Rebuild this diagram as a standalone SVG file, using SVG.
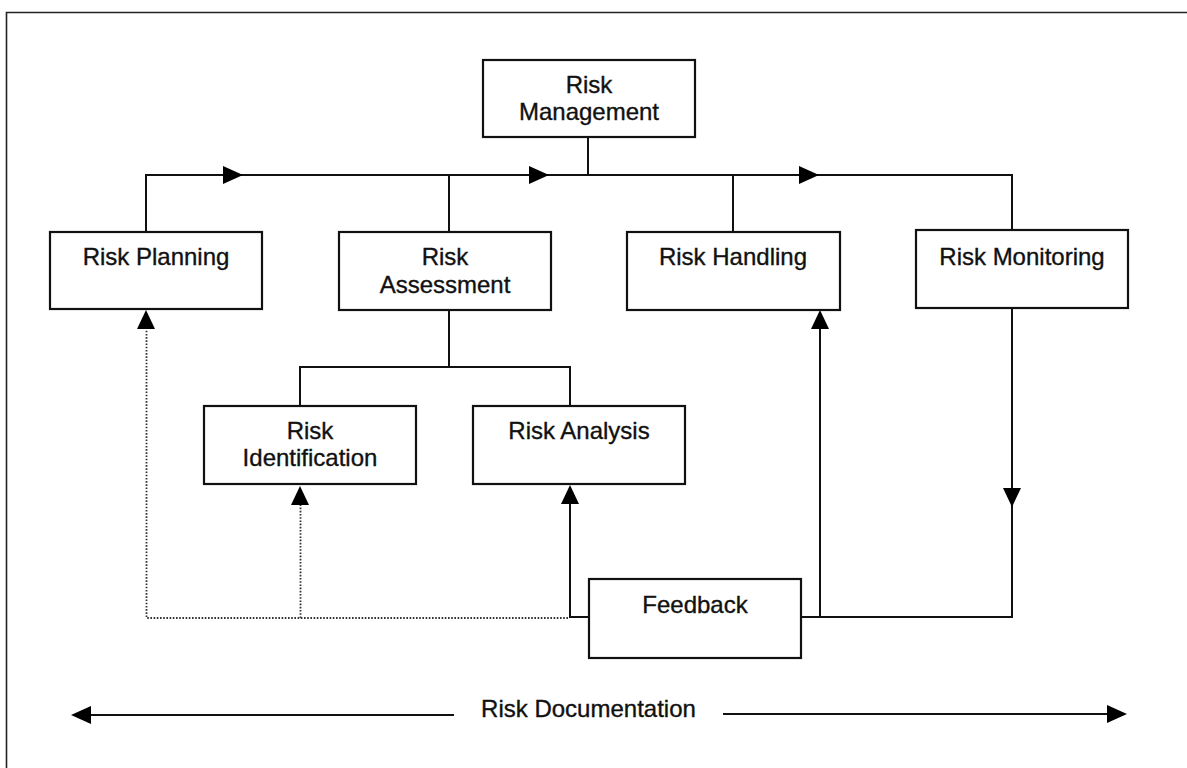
<svg xmlns="http://www.w3.org/2000/svg" width="1187" height="768" viewBox="0 0 1187 768">
  <style>
    .box { fill: #fff; stroke: #111; stroke-width: 2.2; }
    .lbl { font-family: "Liberation Sans", Arial, sans-serif; font-size: 24px; fill: #111; stroke: #111; stroke-width: 0.35; text-anchor: middle; }
    .wire { fill: none; stroke: #111; stroke-width: 2; }
    .dot { fill: none; stroke: #333; stroke-width: 1.8; stroke-dasharray: 1.6 1.6; }
    .head { fill: #000; }
    .frame { fill: none; stroke: #222; stroke-width: 1.6; }
  </style>
  <rect width="1187" height="768" fill="#fff"/>

  <!-- outer frame -->
  <path class="frame" d="M6.5 768 V12.5 H1187"/>

  <!-- connectors -->
  <g id="connectors">
    <!-- management bus -->
    <path class="wire" d="M588 137 V175"/>
    <path class="wire" d="M146 232 V175 H1012 V230"/>
    <path class="wire" d="M449 175 V232"/>
    <path class="wire" d="M733 175 V232"/>
    <polygon class="head" points="223,166 243,175 223,184"/>
    <polygon class="head" points="529,166 549,175 529,184"/>
    <polygon class="head" points="799,166 819,175 799,184"/>

    <!-- assessment sub-tree -->
    <path class="wire" d="M449 310 V367 H300 V406"/>
    <path class="wire" d="M449 367 H570 V406"/>

    <!-- feedback loops -->
    <path class="wire" d="M589 617 H570 V500"/>
    <polygon class="head" points="570,485 561,504 579,504"/>
    <path class="wire" d="M801 617 H1012 V308"/>
    <polygon class="head" points="1003,488 1021,488 1012,507"/>
    <path class="wire" d="M820 617 V326"/>
    <polygon class="head" points="820,310 811,329 829,329"/>

    <!-- dotted feedback -->
    <path class="dot" d="M568 618 H146.5 V326"/>
    <path class="dot" d="M300.5 618 V502"/>
    <polygon class="head" points="146,310 137,329 155,329"/>
    <polygon class="head" points="300,486 291,505 309,505"/>

    <!-- documentation arrow -->
    <path class="wire" d="M88 715 H454"/>
    <path class="wire" d="M723 714 H1110"/>
    <polygon class="head" points="71,715 91,706 91,724"/>
    <polygon class="head" points="1127,714 1107,705 1107,723"/>
  </g>

  <g id="risk-management">
    <rect class="box" x="483" y="60" width="212" height="77"/>
    <text class="lbl" x="589" y="93">Risk</text>
    <text class="lbl" x="589" y="120">Management</text>
  </g>

  <g id="risk-planning">
    <rect class="box" x="50" y="232" width="212" height="77"/>
    <text class="lbl" x="156" y="265">Risk Planning</text>
  </g>

  <g id="risk-assessment">
    <rect class="box" x="339" y="232" width="212" height="78"/>
    <text class="lbl" x="445" y="265">Risk</text>
    <text class="lbl" x="445" y="293">Assessment</text>
  </g>

  <g id="risk-handling">
    <rect class="box" x="627" y="232" width="213" height="78"/>
    <text class="lbl" x="733" y="265">Risk Handling</text>
  </g>

  <g id="risk-monitoring">
    <rect class="box" x="916" y="230" width="212" height="78"/>
    <text class="lbl" x="1022" y="265">Risk Monitoring</text>
  </g>

  <g id="risk-identification">
    <rect class="box" x="204" y="406" width="212" height="78"/>
    <text class="lbl" x="310" y="439">Risk</text>
    <text class="lbl" x="310" y="466">Identification</text>
  </g>

  <g id="risk-analysis">
    <rect class="box" x="473" y="406" width="212" height="78"/>
    <text class="lbl" x="579" y="439">Risk Analysis</text>
  </g>

  <g id="feedback">
    <rect class="box" x="589" y="579" width="212" height="79"/>
    <text class="lbl" x="695" y="613">Feedback</text>
  </g>

  <g id="risk-documentation">
    <text class="lbl" x="588.5" y="717">Risk Documentation</text>
  </g>
</svg>
